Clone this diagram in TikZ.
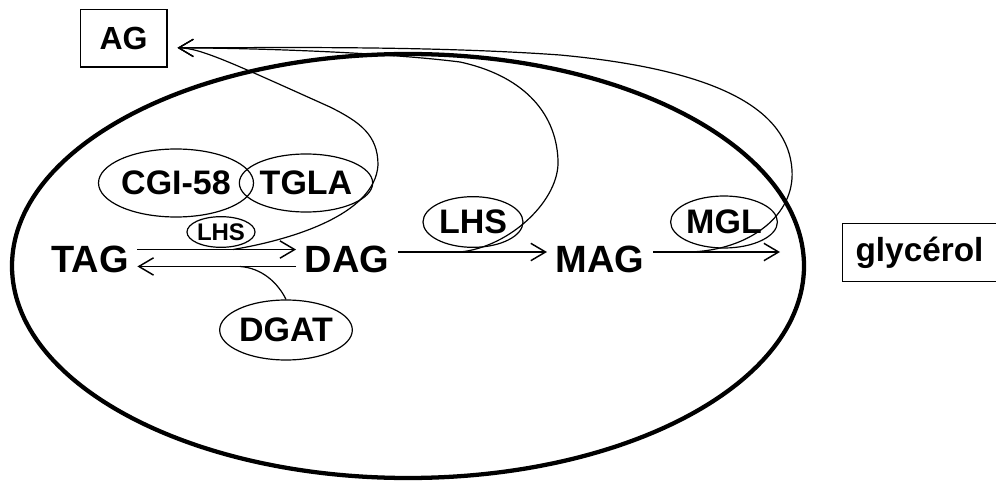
\documentclass[tikz,border=0pt]{standalone}
\usepackage{fontspec}
\setmainfont{Liberation Sans}
\usetikzlibrary{shapes.geometric, arrows.meta, math}

\begin{document}
\begin{tikzpicture}[x=0.75pt, y=-0.75pt, >={Straight Barb[length=11pt,width=13pt]}, line width=1.1pt,
  met/.style={font=\fontsize{28.5}{31}\selectfont\bfseries, inner xsep=6pt, inner ysep=0pt},
  enz/.style={ellipse, draw, line width=0.9pt, inner sep=0pt, font=\fontsize{25.5}{28}\selectfont\bfseries},
  boite/.style={rectangle, draw, line width=1pt, inner sep=0pt, minimum height=43pt, font=\fontsize{24}{27}\selectfont\bfseries}]

\tikzmath{
      \cx = 408; \cy = 266; 
      \yl = 259;
         }

\useasboundingbox (0,0) rectangle (996,481);

% cellule
\draw[line width=3.2pt] (\cx,\cy) ellipse [x radius=297pt, y radius=159pt];

\node[boite, minimum width=65pt] (ag) at (123.5,38.5) {AG};
\node[boite, minimum width=116pt, font=\fontsize{25}{28}\selectfont\bfseries] (glyc) at (919.5,252.5) {glycérol};

\node[met] (tag) at (90,\yl) {TAG};
\node[met] (dag) at (347,\yl) {DAG};
\node[met] (mag) at (600,\yl) {MAG};

\node[enz, minimum width=96pt, minimum height=51pt] (cgi) at (176,183) {CGI-58};
\node[enz, minimum width=100pt, minimum height=43.5pt] (tgla) at (306,183) {TGLA};
\node[enz, minimum width=51pt, minimum height=23pt, font=\fontsize{18}{20}\selectfont\bfseries] (lhsa) at (221,232) {LHS};
\node[enz, minimum width=75pt, minimum height=38pt] (lhsb) at (473,222) {LHS};
\node[enz, minimum width=76pt, minimum height=39pt] (mgl) at (724,222) {MGL};
\node[enz, minimum width=83pt, minimum height=45pt] (dgat) at (286,330) {DGAT};

\coordinate (gin) at (780,252);
\coordinate (agin) at ([xshift=7.5pt,yshift=-7pt]ag.east);
\coordinate (k1) at (233,249.5);
\coordinate (k2) at (460,252);
\coordinate (k3) at (690,252);
\coordinate (k4) at (240,266.5);

\draw[->] ([yshift=7.1pt]tag.east) -- ([yshift=7.1pt]dag.west);
\draw[->] ([yshift=-5.6pt]dag.west) -- ([yshift=-5.6pt]tag.east);
\draw[->] ([yshift=5.25pt]dag.east) -- ([yshift=5.25pt]mag.west);
\draw[->] ([yshift=5.25pt]mag.east) -- (gin);

% vers AG
\draw[->, line width=0.9pt] (k1) .. controls (290,240) and (375,215) .. (378,165) .. controls (378,135) and (360,122) .. (330,107) .. controls (230,62) and (200,48) .. (agin);
\draw[->, line width=0.9pt] (k2) .. controls (510,247) and (560,200) .. (558,160) .. controls (556,110) and (520,75) .. (460,62) .. controls (380,52) and (250,48) .. (agin);
\draw[->, line width=0.9pt] (k3) .. controls (750,250) and (795,215) .. (792,170) .. controls (788,110) and (720,70) .. (560,55) .. controls (420,45) and (250,48) .. (agin);

\draw[line width=0.9pt] (dgat.north) .. controls (278,283) and (262,268) .. (k4);

\end{tikzpicture}
\end{document}
